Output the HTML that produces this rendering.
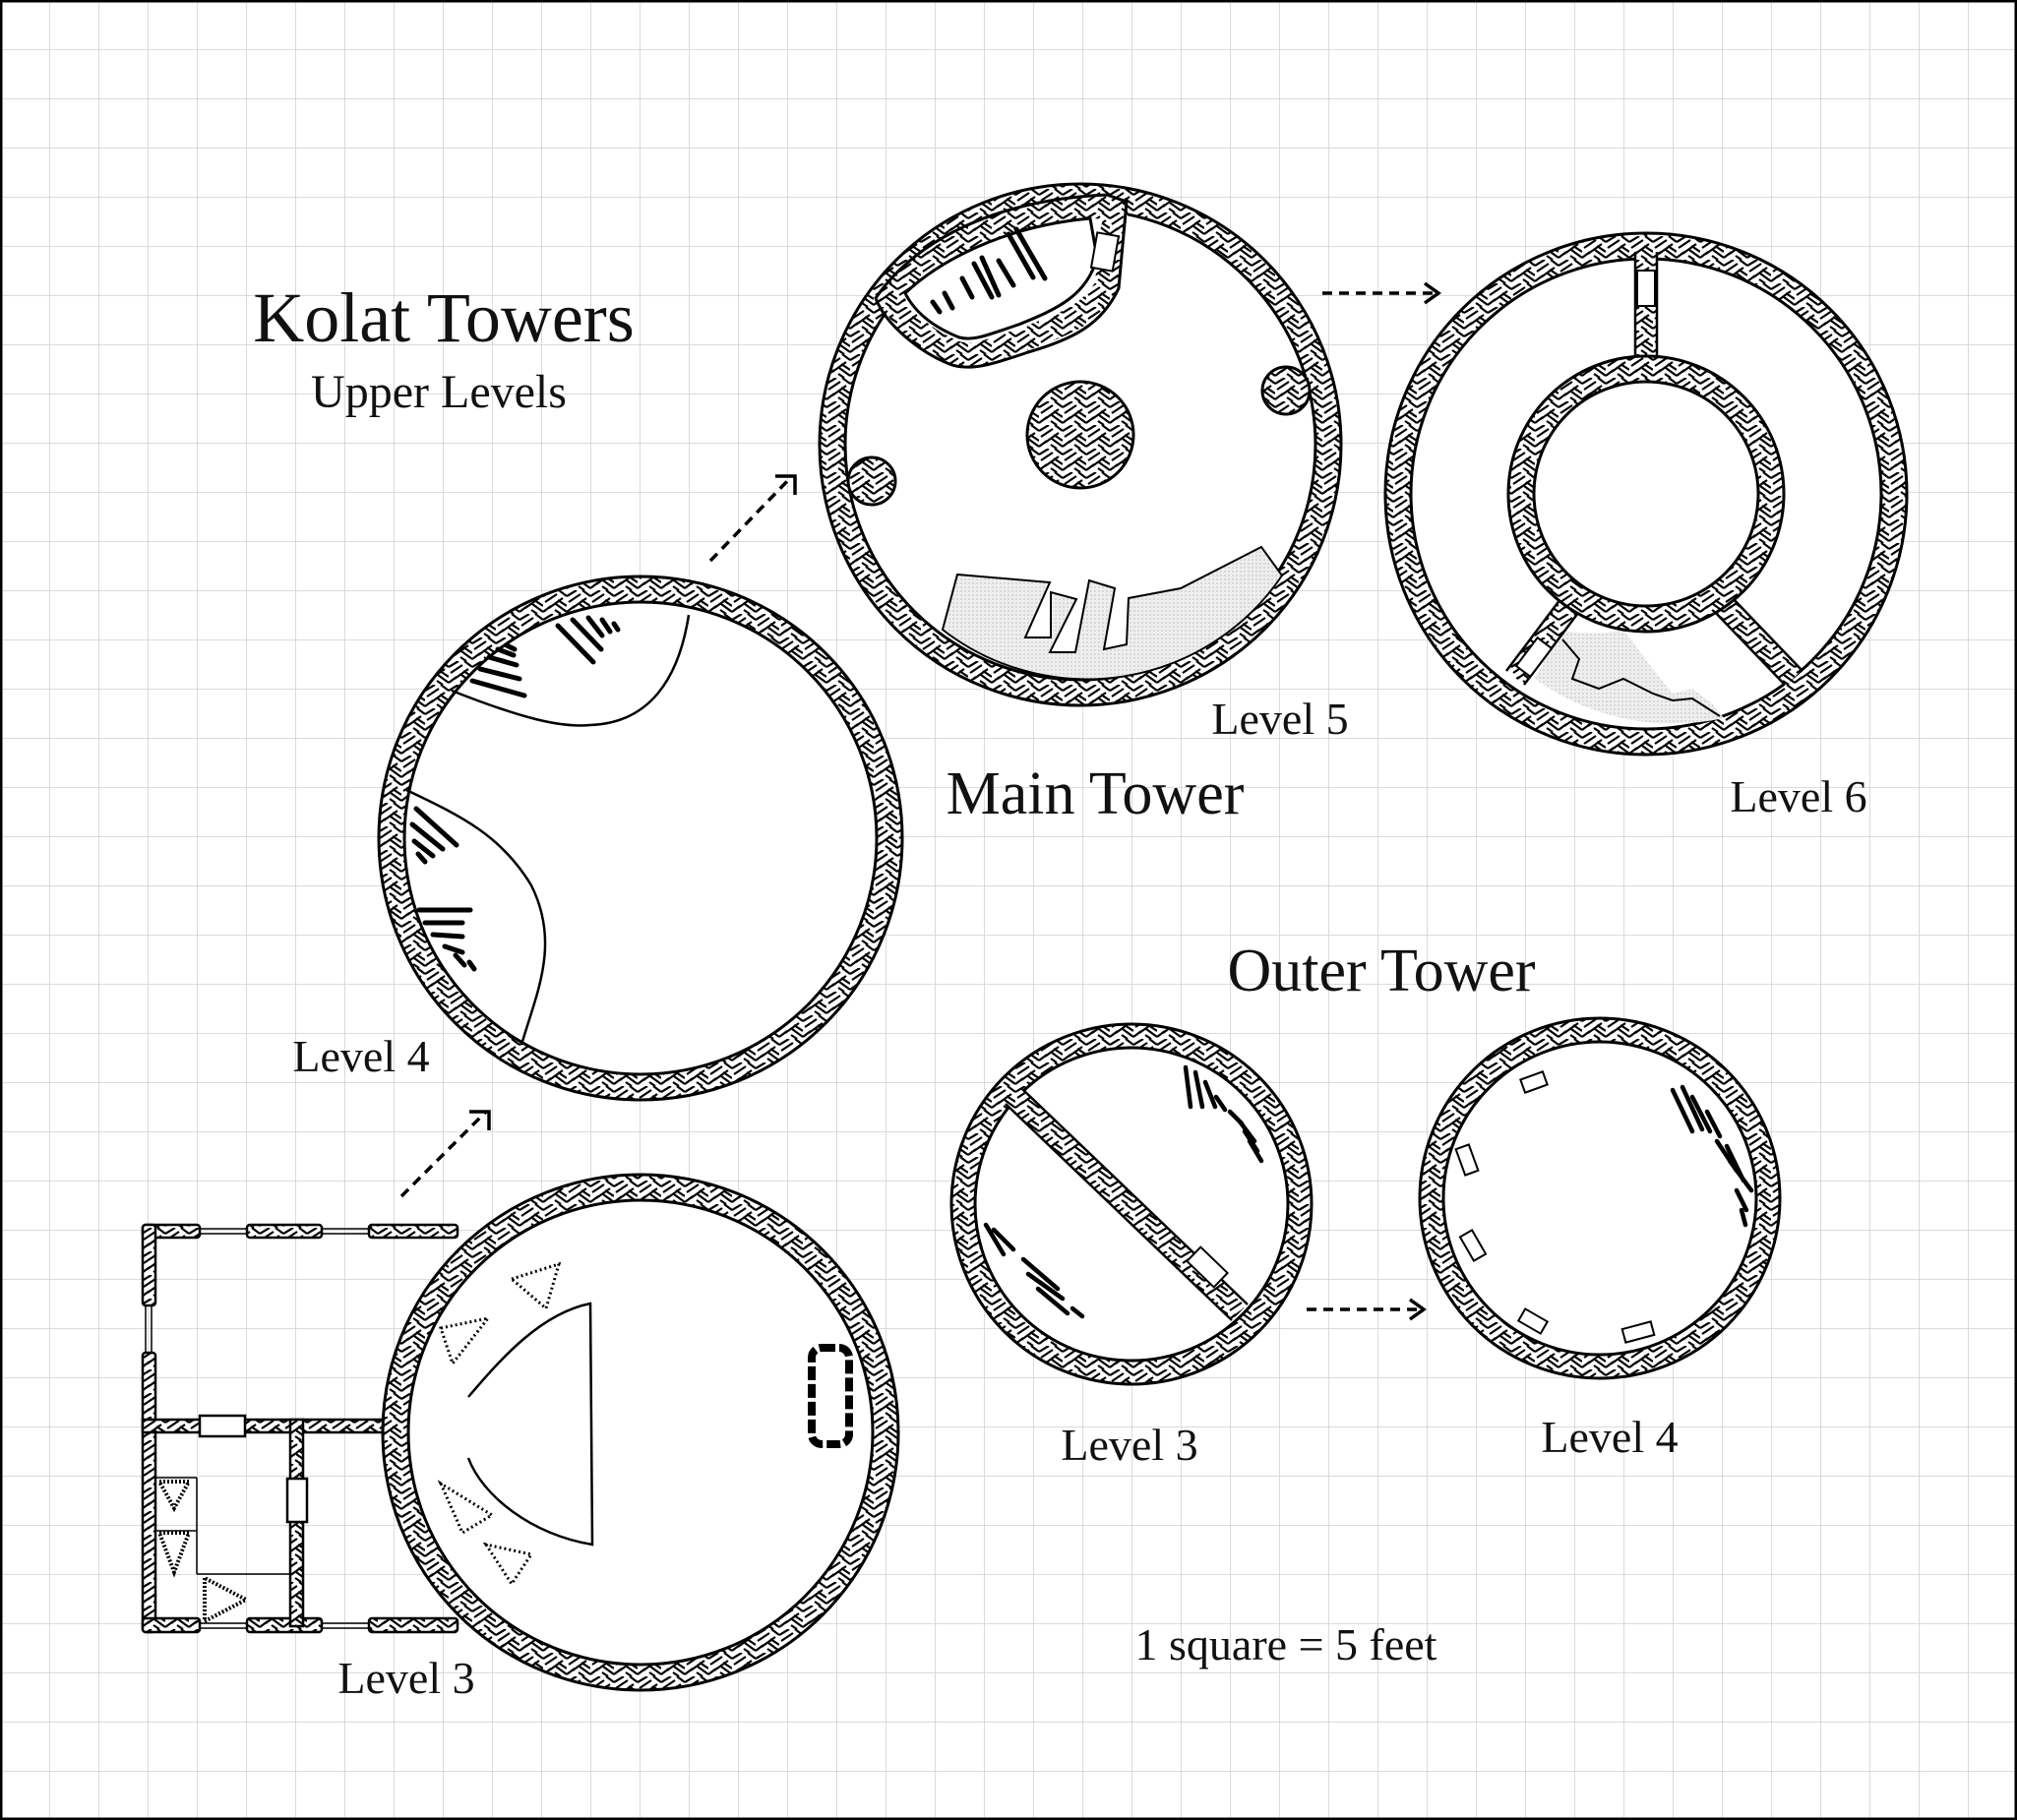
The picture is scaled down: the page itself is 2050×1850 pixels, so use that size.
<!DOCTYPE html>
<html><head><meta charset="utf-8"><style>
html,body{margin:0;padding:0;background:#fff}
svg{display:block}
text{font-family:"Liberation Serif",serif;fill:#111}
</style></head><body>
<svg width="2050" height="1850" viewBox="0 0 2050 1850" xmlns="http://www.w3.org/2000/svg">
<defs>
<pattern id="g" width="50" height="50" patternUnits="userSpaceOnUse" x="1" y="1">
<path d="M50 0V50M0 50H50" stroke="#cfcfcf" stroke-width="1.5" fill="none"/>
</pattern>
<pattern id="h" width="24" height="24" patternUnits="userSpaceOnUse">
<rect width="24" height="24" fill="#fff"/>
<g stroke="#000" stroke-width="2.2">
<path d="M0 6L10 0M2 12L14 4M6 18L20 8M0 22L8 16"/>
<path d="M13 14L24 22M15 10L24 16M12 20L18 24M16 0L24 6"/>
</g>
</pattern>
<pattern id="dots" width="4" height="4" patternUnits="userSpaceOnUse">
<rect width="4" height="4" fill="#eee"/><rect width="2" height="2" fill="#d8d8d8"/>
</pattern>
</defs>
<rect width="2050" height="1850" fill="#fff"/>
<rect width="2050" height="1850" fill="url(#g)"/>
<rect x="1" y="1" width="2048" height="1848" fill="none" stroke="#000" stroke-width="3"/>

<!-- Level 4 main -->
<g>
<circle cx="651" cy="852" r="253" fill="#fff" stroke="url(#h)" stroke-width="26"/>
<circle cx="651" cy="852" r="266" fill="none" stroke="#000" stroke-width="3"/>
<circle cx="651" cy="852" r="240" fill="none" stroke="#000" stroke-width="3"/>
<path d="M459,702 C530,730 570,740 600,737 C660,735 690,690 700,625" fill="none" stroke="#000" stroke-width="2.5"/>
<path d="M413,803 C470,830 510,850 540,900 C570,960 545,1010 530,1062" fill="none" stroke="#000" stroke-width="2.5"/>
<g stroke="#000" stroke-width="5" stroke-linecap="round">
<path d="M480,692L533,707M488,680L528,690M497,668L525,676M506,660L522,666M515,656L523,660"/>
<path d="M567,636L603,673M582,630L611,660M598,628L612,646M612,630L620,642M624,634L628,640"/>
<path d="M423,822L464,859M419,838L450,863M421,855L440,870M425,868L432,876"/>
<path d="M426,925L478,925M432,938L470,938M440,950L470,952M452,962L470,968M463,971L472,981M477,978L482,985"/>
</g>
</g>

<!-- Level 5 -->
<g>
<circle cx="1098" cy="452" r="252" fill="#fff" stroke="url(#h)" stroke-width="26"/>
<circle cx="1098" cy="452" r="265" fill="none" stroke="#000" stroke-width="3"/>
<circle cx="1098" cy="452" r="239" fill="none" stroke="#000" stroke-width="3"/>
<path d="M958,640 L973,584 L1067,592 L1042,648 L1068,648 L1068,602 L1094,609 L1067,663 L1093,663 L1107,590 L1133,598 L1122,660 L1145,655 L1147,608 L1200,598 L1282,556 L1303,585 A239 239 0 0 1 958,640Z" fill="url(#dots)" stroke="#000" stroke-width="2"/>
<circle cx="1098" cy="442" r="54" fill="url(#h)" stroke="#000" stroke-width="3"/>
<circle cx="886" cy="489" r="24" fill="url(#h)" stroke="#000" stroke-width="3"/>
<circle cx="1307" cy="397" r="24" fill="url(#h)" stroke="#000" stroke-width="3"/>
<path d="M905,300 C940,255 1020,215 1115,210 L1135,215 L1128,245 L1125,290 C1110,320 1080,330 1040,345 C1010,355 990,365 970,358 C940,345 915,325 905,300Z" fill="#fff" stroke="url(#h)" stroke-width="24"/>
<path d="M890,303 C930,245 1010,203 1125,198 L1145,205 L1140,260 L1137,293 C1120,330 1090,345 1045,358 C1010,370 985,378 965,370 C935,358 900,330 890,303Z M920,298 C955,265 1020,230 1108,222 L1115,262 C1105,300 1075,314 1035,330 C1005,340 990,347 975,343 C950,333 930,318 920,298Z" fill="none" stroke="#000" stroke-width="3"/>
<rect x="1112" y="238" width="22" height="36" fill="#fff" stroke="#000" stroke-width="2" transform="rotate(10 1123 256)"/>
<g stroke="#000" stroke-width="5" stroke-linecap="round">
<path d="M1025,238L1050,282M1033,233L1062,283M1015,265L1030,290M990,268L1008,302M998,262L1015,300M960,298L968,313M948,307L955,317M978,283L988,302"/>
</g>
</g>

<!-- Level 6 -->
<g>
<circle cx="1673" cy="502" r="252" fill="#fff" stroke="url(#h)" stroke-width="26"/>
<circle cx="1673" cy="502" r="265" fill="none" stroke="#000" stroke-width="3"/>
<circle cx="1673" cy="502" r="239" fill="none" stroke="#000" stroke-width="3"/>
<path d="M1560,690 L1585,640 A140 140 0 0 0 1650,640 L1680,680 L1700,705 L1720,700 L1740,715 L1752,730 A239 239 0 0 1 1560,690Z" fill="url(#dots)"/>
<path d="M1588,650 L1605,670 L1598,690 L1625,700 L1650,690 L1680,705 L1700,712 L1720,710 L1748,728" fill="none" stroke="#000" stroke-width="2"/>
<g stroke="url(#h)" stroke-width="22">
<path d="M1673,362V256M1598,612L1540,689M1749,612L1823,689"/>
</g>
<g stroke="#000" stroke-width="2.5">
<path d="M1662,362V256M1684,362V256M1589,605L1531,682M1607,619L1549,696M1758,605L1832,682M1740,619L1814,696"/>
</g>
<rect x="1664" y="275" width="18" height="36" fill="#fff" stroke="#000" stroke-width="2"/>
<rect x="1550" y="650" width="18" height="36" fill="#fff" stroke="#000" stroke-width="2" transform="rotate(37 1559 668)"/>
<circle cx="1673" cy="502" r="127" fill="#fff" stroke="url(#h)" stroke-width="26"/>
<circle cx="1673" cy="502" r="140" fill="none" stroke="#000" stroke-width="3"/>
<circle cx="1673" cy="502" r="114" fill="none" stroke="#000" stroke-width="3"/>
</g>

<!-- Level 3 annex -->
<g>
<g fill="url(#h)" stroke="#000" stroke-width="2.5">
<rect x="145" y="1245" width="58" height="13" rx="3"/>
<rect x="251" y="1245" width="76" height="13" rx="3"/>
<rect x="375" y="1245" width="90" height="13" rx="3"/>
<rect x="145" y="1245" width="13" height="82" rx="3"/>
<rect x="145" y="1375" width="13" height="284" rx="3"/>
<rect x="145" y="1645" width="58" height="14" rx="3"/>
<rect x="251" y="1645" width="76" height="14" rx="3"/>
<rect x="375" y="1645" width="90" height="14" rx="3"/>
<rect x="145" y="1443" width="255" height="13"/>
<rect x="295" y="1443" width="13" height="210"/>
</g>
<g stroke="#000" stroke-width="1.5" fill="none">
<path d="M203,1249H251M203,1254H251M327,1249H375M327,1254H375M148,1327V1375M154,1327V1375"/>
<path d="M203,1650H251M203,1655H251M327,1650H375M327,1655H375"/>
<path d="M200,1502V1600M200,1600H295M158,1556H200M158,1502H200"/>
</g>
<rect x="203" y="1439" width="46" height="21" fill="#fff" stroke="#000" stroke-width="2.5"/>
<rect x="292" y="1503" width="20" height="44" fill="#fff" stroke="#000" stroke-width="2.5"/>
<path d="M162,1506L192,1506L177,1533Z M162,1558L192,1558L177,1598Z M208,1604V1648L250,1626Z" fill="none" stroke="#000" stroke-width="4" stroke-dasharray="2 2"/>
</g>

<!-- Level 3 main -->
<g>
<circle cx="651" cy="1456" r="249" fill="#fff" stroke="url(#h)" stroke-width="26"/>
<circle cx="651" cy="1456" r="262" fill="none" stroke="#000" stroke-width="3"/>
<circle cx="651" cy="1456" r="236" fill="none" stroke="#000" stroke-width="3"/>
<path d="M476,1420 C510,1380 550,1335 600,1325 L602,1570 C540,1560 490,1520 476,1482" fill="none" stroke="#000" stroke-width="2.5"/>
<g fill="none" stroke="#000" stroke-width="3" stroke-dasharray="2 3">
<path d="M520,1300L568,1285L555,1330Z M448,1350L496,1340L460,1386Z M448,1508L470,1558L500,1540Z M494,1570L520,1610L540,1580Z"/>
</g>
<rect x="825" y="1370" width="38" height="98" rx="10" fill="#fff" stroke="#000" stroke-width="8" stroke-dasharray="14 4"/>
</g>

<!-- Outer Level 3 -->
<g>
<circle cx="1150" cy="1224" r="171" fill="#fff" stroke="url(#h)" stroke-width="24"/>
<circle cx="1150" cy="1224" r="183" fill="none" stroke="#000" stroke-width="3"/>
<circle cx="1150" cy="1224" r="159" fill="none" stroke="#000" stroke-width="3"/>
<path d="M1030,1114L1260,1334" stroke="url(#h)" stroke-width="22"/>
<path d="M1022,1122L1252,1342M1038,1106L1268,1326" stroke="#000" stroke-width="2.5"/>
<rect x="1208" y="1278" width="38" height="20" fill="#fff" stroke="#000" stroke-width="2" transform="rotate(44 1227 1288)"/>
<g stroke="#000" stroke-width="4.5" stroke-linecap="round">
<path d="M1205,1085L1210,1125M1215,1090L1222,1125M1225,1100L1235,1125M1236,1115L1245,1128M1250,1130L1262,1142M1260,1140L1275,1160M1265,1150L1278,1170M1270,1160L1282,1180"/>
<path d="M1002,1245L1020,1275M1010,1250L1030,1270M1040,1280L1075,1310M1045,1295L1080,1320M1055,1310L1085,1335M1090,1330L1100,1338"/>
</g>
</g>

<!-- Outer Level 4 -->
<g>
<circle cx="1626" cy="1218" r="171" fill="#fff" stroke="url(#h)" stroke-width="24"/>
<circle cx="1626" cy="1218" r="183" fill="none" stroke="#000" stroke-width="3"/>
<circle cx="1626" cy="1218" r="159" fill="none" stroke="#000" stroke-width="3"/>
<g fill="#fff" stroke="#000" stroke-width="2">
<rect x="1547" y="1093" width="24" height="14" transform="rotate(-20 1559 1100)"/>
<rect x="1484" y="1165" width="14" height="28" transform="rotate(-20 1491 1179)"/>
<rect x="1490" y="1252" width="14" height="28" transform="rotate(-30 1497 1266)"/>
<rect x="1545" y="1336" width="26" height="14" transform="rotate(30 1558 1343)"/>
<rect x="1650" y="1347" width="30" height="14" transform="rotate(-15 1665 1354)"/>
</g>
<g stroke="#000" stroke-width="4.5" stroke-linecap="round">
<path d="M1700,1108L1720,1150M1710,1105L1730,1148M1720,1115L1738,1150M1735,1130L1748,1155M1745,1160L1765,1190M1755,1165L1772,1200M1758,1180L1780,1210M1765,1210L1775,1230M1770,1230L1774,1245"/>
</g>
</g>

<!-- arrows -->
<g stroke="#000" stroke-width="3.5" fill="none" stroke-dasharray="10 7">
<path d="M722,570L805,484M1344,298L1460,298M408,1216L494,1130M1328,1331L1445,1331"/>
</g>
<g stroke="#000" stroke-width="3.5" fill="none">
<path d="M788,484H808V503M1448,288L1462,298L1448,308M477,1130H497V1149M1433,1321L1447,1331L1433,1341"/>
</g>

<!-- text -->
<text x="451" y="347" font-size="72" text-anchor="middle">Kolat Towers</text>
<text x="446" y="414" font-size="48" text-anchor="middle">Upper Levels</text>
<text x="1301" y="746" font-size="46" text-anchor="middle">Level 5</text>
<text x="1113" y="827" font-size="62" text-anchor="middle">Main Tower</text>
<text x="1828" y="825" font-size="46" text-anchor="middle">Level 6</text>
<text x="367" y="1089" font-size="46" text-anchor="middle">Level 4</text>
<text x="1404" y="1007" font-size="62" text-anchor="middle">Outer Tower</text>
<text x="1148" y="1484" font-size="46" text-anchor="middle">Level 3</text>
<text x="1636" y="1476" font-size="46" text-anchor="middle">Level 4</text>
<text x="413" y="1721" font-size="46" text-anchor="middle">Level 3</text>
<text x="1307" y="1687" font-size="46" text-anchor="middle">1 square = 5 feet</text>
</svg>
</body></html>
